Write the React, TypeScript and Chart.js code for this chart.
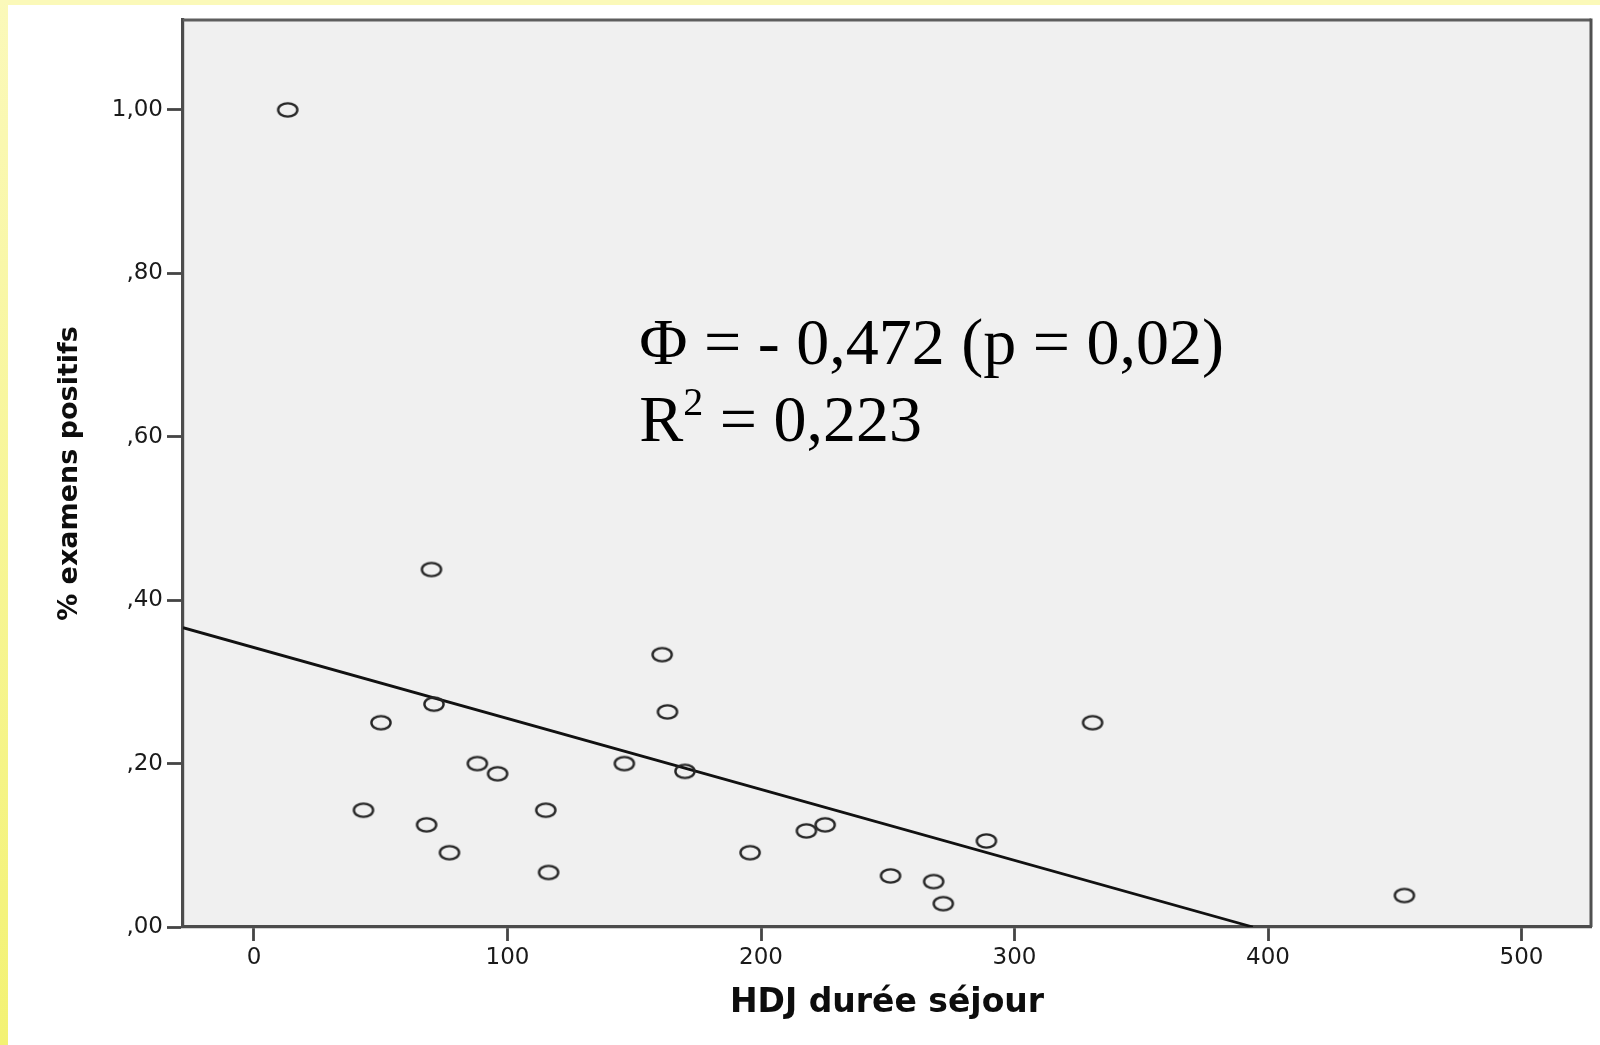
import React, { useEffect, useRef } from 'react';
import { Chart, registerables } from 'chart.js';

Chart.register(...registerables);

// HDJ durée séjour (x) vs % examens positifs (y)
const dureeSejour = [13.3, 70.0, 71.0, 50.1, 43.2, 68.1, 77.1, 88.1, 96.1, 115.1, 116.2, 146.1, 161.0, 163.1, 170.0, 195.7, 217.9, 225.3, 251.1, 268.1, 271.9, 288.9, 330.8, 453.8];
const examensPositifs = [1.0, 0.4375, 0.2727, 0.25, 0.1429, 0.125, 0.0909, 0.2, 0.1875, 0.1429, 0.0667, 0.2, 0.3333, 0.2632, 0.1905, 0.0909, 0.1176, 0.125, 0.0625, 0.0556, 0.0286, 0.1053, 0.25, 0.0385];

// Fitted regression line
const regIntercept = 0.342;
const regSlope = -0.000868;

const xTickValues = [0, 100, 200, 300, 400, 500];
const yTickValues = [0, 0.2, 0.4, 0.6, 0.8, 1.0];
const xRange = [-28, 527.4];
const yRange = [0, 1.11];

const xTitle = 'HDJ durée séjour';
const yTitle = '% examens positifs';
const annotLine1 = 'Φ = - 0,472 (p = 0,02)';
const annotLine2Base = 'R';
const annotLine2Sup = '2';
const annotLine2Rest = ' = 0,223';
const annotPos = { x: 152, y: 0.689 };

function makeMarker(): HTMLCanvasElement {
  const c = document.createElement('canvas');
  c.width = 26;
  c.height = 20;
  const g = c.getContext('2d')!;
  g.strokeStyle = '#262626';
  g.lineWidth = 2.4;
  g.beginPath();
  g.ellipse(13, 10, 9.6, 6.6, 0, 0, Math.PI * 2);
  g.stroke();
  return c;
}

function fmtY(v: number): string {
  return v.toFixed(2).replace('.', ',').replace(/^0/, '');
}

export default function App() {
  const ref = useRef<HTMLCanvasElement | null>(null);

  useEffect(() => {
    if (!ref.current) return;
    const marker = makeMarker();
    const xZero = -regIntercept / regSlope;
    const linePts = [
      { x: xRange[0], y: regIntercept + regSlope * xRange[0] },
      { x: xZero, y: 0 },
    ];

    const serif = '"Liberation Serif", "Times New Roman", serif';

    const framePlugin = {
      id: 'frame',
      beforeDraw(chart: any) {
        const { ctx, chartArea: a } = chart;
        ctx.save();
        ctx.fillStyle = '#f0f0f0';
        ctx.fillRect(a.left, a.top, a.right - a.left, a.bottom - a.top);
        ctx.restore();
      },
      afterDraw(chart: any) {
        const { ctx, chartArea: a, scales } = chart;
        ctx.save();
        // top and right frame lines
        ctx.strokeStyle = '#5e5e5e';
        ctx.lineWidth = 3;
        ctx.beginPath();
        ctx.moveTo(a.left, a.top);
        ctx.lineTo(a.right, a.top);
        ctx.stroke();
        ctx.strokeStyle = '#505050';
        ctx.lineWidth = 3;
        ctx.beginPath();
        ctx.moveTo(a.right, a.top - 1.5);
        ctx.lineTo(a.right, a.bottom);
        ctx.stroke();
        // annotation
        const px = scales.x.getPixelForValue(annotPos.x);
        const py = scales.y.getPixelForValue(annotPos.y);
        ctx.fillStyle = '#000000';
        ctx.textBaseline = 'alphabetic';
        ctx.textAlign = 'left';
        ctx.font = '66px ' + serif;
        ctx.fillText(annotLine1, px, py);
        const py2 = py + 77;
        ctx.fillText(annotLine2Base, px, py2);
        let w = ctx.measureText(annotLine2Base).width;
        ctx.font = '40px ' + serif;
        ctx.fillText(annotLine2Sup, px + w, py2 - 26);
        w += ctx.measureText(annotLine2Sup).width;
        ctx.font = '66px ' + serif;
        ctx.fillText(annotLine2Rest, px + w, py2);
        ctx.restore();
      },
    };

    const chart = new Chart(ref.current, {
      type: 'scatter',
      data: {
        datasets: [
          {
            label: 'points',
            data: dureeSejour.map((x, i) => ({ x, y: examensPositifs[i] })),
            pointStyle: marker as any,
            pointRadius: 8,
            showLine: false,
          },
          {
            label: 'fit',
            data: linePts,
            showLine: true,
            borderColor: '#111111',
            borderWidth: 2.8,
            pointRadius: 0,
            fill: false,
          },
        ],
      },
      options: {
        animation: false,
        responsive: false,
        devicePixelRatio: 1,
        layout: { padding: { top: 20, right: 7, left: 0, bottom: 0 } },
        plugins: {
          legend: { display: false },
          tooltip: { enabled: false },
        },
        scales: {
          x: {
            type: 'linear',
            min: xRange[0],
            max: xRange[1],
            afterFit(scale: any) {
              scale.height = 118;
            },
            afterBuildTicks(scale: any) {
              scale.ticks = xTickValues.map((v) => ({ value: v }));
            },
            grid: {
              drawOnChartArea: false,
              drawTicks: true,
              tickLength: 14,
              tickWidth: 2.8,
              tickColor: '#454545',
            },
            border: { display: true, color: '#4c4c4c', width: 3.2 },
            ticks: {
              padding: 3,
              color: '#1a1a1a',
              font: { family: '"DejaVu Sans", sans-serif', size: 23 },
              callback: (v: any) => String(v),
              maxRotation: 0,
            },
            title: {
              display: true,
              text: xTitle,
              color: '#0d0d0d',
              font: { family: '"DejaVu Sans", sans-serif', size: 33, weight: 'bold' },
              padding: { top: 0, bottom: 22 },
            },
          },
          y: {
            type: 'linear',
            min: yRange[0],
            max: yRange[1],
            afterFit(scale: any) {
              scale.width = 183;
            },
            afterBuildTicks(scale: any) {
              scale.ticks = yTickValues.map((v) => ({ value: v }));
            },
            grid: {
              drawOnChartArea: false,
              drawTicks: true,
              tickLength: 16,
              tickWidth: 2.8,
              tickColor: '#454545',
            },
            border: { display: true, color: '#4c4c4c', width: 3.2 },
            ticks: {
              padding: 4,
              color: '#1a1a1a',
              font: { family: '"DejaVu Sans", sans-serif', size: 23 },
              callback: (v: any) => fmtY(Number(v)),
            },
            title: {
              display: true,
              text: yTitle,
              color: '#0d0d0d',
              font: { family: '"DejaVu Sans", sans-serif', size: 27, weight: 'bold' },
              padding: { top: 54, bottom: 0 },
            },
          },
        },
      },
      plugins: [framePlugin],
    } as any);

    return () => chart.destroy();
  }, []);

  return (
    <div
      style={{
        position: 'absolute',
        left: 0,
        top: 0,
        width: 1600,
        height: 1045,
        background: '#ffffff',
        overflow: 'hidden',
      }}
    >
      <div style={{ position: 'absolute', left: 0, top: 0, width: 1600, height: 5, background: '#fbf9b9' }} />
      <div
        style={{
          position: 'absolute',
          left: 0,
          top: 0,
          width: 8,
          height: 1045,
          background: 'linear-gradient(to bottom, #fbf9ba, #f3f273)',
        }}
      />
      <canvas ref={ref} width={1600} height={1045} style={{ position: 'absolute', left: 0, top: 0, width: 1600, height: 1045 }} />
    </div>
  );
}
